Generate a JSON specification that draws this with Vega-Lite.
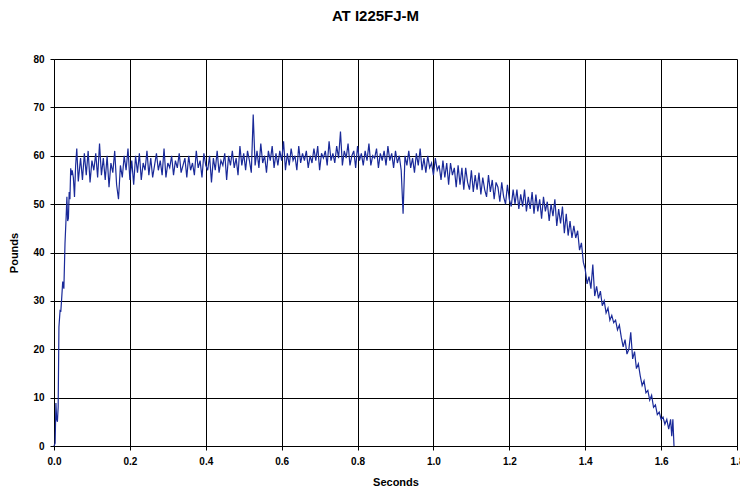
{
"$schema":"https://vega.github.io/schema/vega-lite/v6.json",
"width":683,"height":387,
"autosize":{"type":"none"},
"padding":{"left":54,"top":59,"right":3,"bottom":47},
"background":"white",
"title":{"text":"AT I225FJ-M","font":"Liberation Sans","fontSize":15,"fontWeight":"bold","color":"black","anchor":"middle","frame":"group","offset":30,"dx":-20},
"config":{"view":{"stroke":null},"axis":{"labelFont":"Liberation Sans","labelFontSize":10,"labelFontWeight":"bold","labelColor":"black","titleFont":"Liberation Sans","titleFontSize":11,"titleFontWeight":"bold","titleColor":"black","gridColor":"black","gridOpacity":1,"gridWidth":1,"domainColor":"black","tickColor":"black","tickSize":4}},
"data":{"values":[
{"t":0,"lb":0},{"t":0.003,"lb":0.6},{"t":0.005,"lb":8.9},{"t":0.007,"lb":5.5},{"t":0.009,"lb":5},{"t":0.011,"lb":8.1},{"t":0.013,"lb":24.6},{"t":0.016,"lb":28},{"t":0.018,"lb":27.9},{"t":0.02,"lb":30.2},{"t":0.023,"lb":34},{"t":0.026,"lb":32.5},{"t":0.029,"lb":41.9},{"t":0.032,"lb":47.4},{"t":0.034,"lb":51.5},{"t":0.036,"lb":46.5},{"t":0.038,"lb":47.1},{"t":0.04,"lb":52.5},{"t":0.042,"lb":51},{"t":0.044,"lb":57.4},{"t":0.046,"lb":56},{"t":0.048,"lb":57},{"t":0.051,"lb":55.5},{"t":0.054,"lb":51.5},{"t":0.057,"lb":58},{"t":0.06,"lb":61.5},{"t":0.064,"lb":54.7},
{"t":0.07,"lb":59.5},{"t":0.075,"lb":55},{"t":0.08,"lb":60.5},{"t":0.085,"lb":56},{"t":0.09,"lb":61},{"t":0.095,"lb":54.5},{"t":0.1,"lb":59},{"t":0.105,"lb":57},{"t":0.11,"lb":60.5},{"t":0.115,"lb":55.5},
{"t":0.12,"lb":62.5},{"t":0.125,"lb":56},{"t":0.13,"lb":59.5},{"t":0.135,"lb":55},{"t":0.14,"lb":60},{"t":0.145,"lb":53.5},{"t":0.15,"lb":58.5},{"t":0.155,"lb":56.5},{"t":0.16,"lb":61},{"t":0.165,"lb":54},
{"t":0.17,"lb":51},{"t":0.175,"lb":58},{"t":0.18,"lb":55.5},{"t":0.185,"lb":60},{"t":0.19,"lb":57},{"t":0.195,"lb":61.5},{"t":0.2,"lb":55},{"t":0.205,"lb":59},{"t":0.21,"lb":54},{"t":0.215,"lb":60},
{"t":0.22,"lb":56.5},{"t":0.225,"lb":60.5},{"t":0.23,"lb":55},{"t":0.235,"lb":58.5},{"t":0.24,"lb":57},{"t":0.245,"lb":61},{"t":0.25,"lb":56},{"t":0.255,"lb":59.5},{"t":0.26,"lb":55.5},{"t":0.265,"lb":58},
{"t":0.27,"lb":60.5},{"t":0.275,"lb":57},{"t":0.28,"lb":59},{"t":0.285,"lb":56},{"t":0.29,"lb":61.5},{"t":0.295,"lb":55.5},{"t":0.3,"lb":58.5},{"t":0.305,"lb":57.5},{"t":0.31,"lb":60},{"t":0.315,"lb":56},
{"t":0.32,"lb":59},{"t":0.325,"lb":57.5},{"t":0.33,"lb":60.5},{"t":0.335,"lb":56.5},{"t":0.34,"lb":58},{"t":0.345,"lb":59.5},{"t":0.35,"lb":55.5},{"t":0.355,"lb":60},{"t":0.36,"lb":57},{"t":0.365,"lb":58.5},
{"t":0.37,"lb":56},{"t":0.375,"lb":61},{"t":0.38,"lb":57.5},{"t":0.385,"lb":59},{"t":0.39,"lb":55.5},{"t":0.395,"lb":60.5},{"t":0.4,"lb":58},{"t":0.405,"lb":57},{"t":0.41,"lb":60},{"t":0.415,"lb":54.5},
{"t":0.42,"lb":59.5},{"t":0.425,"lb":57},{"t":0.43,"lb":61},{"t":0.435,"lb":56.5},{"t":0.44,"lb":59},{"t":0.445,"lb":58},{"t":0.45,"lb":60.5},{"t":0.455,"lb":55},{"t":0.46,"lb":60},{"t":0.465,"lb":58},
{"t":0.47,"lb":61},{"t":0.475,"lb":57.5},{"t":0.48,"lb":59.5},{"t":0.485,"lb":56},{"t":0.49,"lb":62},{"t":0.495,"lb":58},{"t":0.5,"lb":60.5},{"t":0.505,"lb":57},{"t":0.51,"lb":61},{"t":0.515,"lb":59},
{"t":0.52,"lb":56.5},{"t":0.525,"lb":68.5},{"t":0.53,"lb":58},{"t":0.535,"lb":61},{"t":0.54,"lb":57.5},{"t":0.545,"lb":62.5},{"t":0.55,"lb":58.5},{"t":0.555,"lb":60},{"t":0.56,"lb":56.5},{"t":0.565,"lb":61},
{"t":0.57,"lb":59},{"t":0.575,"lb":62},{"t":0.58,"lb":57.5},{"t":0.585,"lb":60.5},{"t":0.59,"lb":58},{"t":0.595,"lb":61},{"t":0.6,"lb":59},{"t":0.605,"lb":63},{"t":0.61,"lb":57},{"t":0.615,"lb":60.5},
{"t":0.62,"lb":58},{"t":0.625,"lb":61.5},{"t":0.63,"lb":59},{"t":0.635,"lb":60},{"t":0.64,"lb":57},{"t":0.645,"lb":62},{"t":0.65,"lb":58.5},{"t":0.655,"lb":60.5},{"t":0.66,"lb":59},{"t":0.665,"lb":61},
{"t":0.67,"lb":57.5},{"t":0.675,"lb":60},{"t":0.68,"lb":58.5},{"t":0.685,"lb":61.5},{"t":0.69,"lb":59},{"t":0.695,"lb":62},{"t":0.7,"lb":57},{"t":0.705,"lb":60.5},{"t":0.71,"lb":59.5},{"t":0.715,"lb":61},
{"t":0.72,"lb":58},{"t":0.725,"lb":63},{"t":0.73,"lb":59},{"t":0.735,"lb":60.5},{"t":0.74,"lb":58.5},{"t":0.745,"lb":62},{"t":0.75,"lb":59.5},{"t":0.755,"lb":65},{"t":0.76,"lb":58},{"t":0.765,"lb":61},
{"t":0.77,"lb":59.5},{"t":0.775,"lb":62.5},{"t":0.78,"lb":58},{"t":0.785,"lb":60},{"t":0.79,"lb":61},{"t":0.795,"lb":57.5},{"t":0.8,"lb":62},{"t":0.805,"lb":59},{"t":0.81,"lb":60.5},{"t":0.815,"lb":58},
{"t":0.82,"lb":61},{"t":0.825,"lb":59},{"t":0.83,"lb":62.5},{"t":0.835,"lb":58},{"t":0.84,"lb":60},{"t":0.845,"lb":59.5},{"t":0.85,"lb":61.5},{"t":0.855,"lb":57.5},{"t":0.86,"lb":60.5},{"t":0.865,"lb":59},
{"t":0.87,"lb":61},{"t":0.875,"lb":58},{"t":0.88,"lb":62},{"t":0.885,"lb":59},{"t":0.89,"lb":60.5},{"t":0.895,"lb":57.5},{"t":0.9,"lb":61},{"t":0.905,"lb":58.5},{"t":0.91,"lb":60},{"t":0.915,"lb":57},
{"t":0.92,"lb":48},{"t":0.925,"lb":60},{"t":0.93,"lb":58},{"t":0.935,"lb":61},{"t":0.94,"lb":57.5},{"t":0.945,"lb":59.5},{"t":0.95,"lb":56.5},{"t":0.955,"lb":60.5},{"t":0.96,"lb":58},{"t":0.965,"lb":61.5},
{"t":0.97,"lb":57},{"t":0.975,"lb":59.5},{"t":0.98,"lb":56.5},{"t":0.985,"lb":60},{"t":0.99,"lb":57.5},{"t":0.995,"lb":58.5},{"t":1.0,"lb":56},{"t":1.005,"lb":59.5},{"t":1.01,"lb":57},{"t":1.015,"lb":58},
{"t":1.02,"lb":55},{"t":1.025,"lb":59},{"t":1.03,"lb":55.5},{"t":1.035,"lb":58.5},{"t":1.04,"lb":54},{"t":1.045,"lb":58.5},{"t":1.05,"lb":56},{"t":1.055,"lb":57.5},{"t":1.06,"lb":53.5},{"t":1.065,"lb":58},
{"t":1.07,"lb":54},{"t":1.075,"lb":57.5},{"t":1.08,"lb":53},{"t":1.085,"lb":57.5},{"t":1.09,"lb":54.5},{"t":1.095,"lb":53},{"t":1.1,"lb":57},{"t":1.105,"lb":52.5},{"t":1.11,"lb":56},{"t":1.115,"lb":53},
{"t":1.12,"lb":56.5},{"t":1.125,"lb":52},{"t":1.13,"lb":55.5},{"t":1.135,"lb":53},{"t":1.14,"lb":51.5},{"t":1.145,"lb":56},{"t":1.15,"lb":52.5},{"t":1.155,"lb":55},{"t":1.16,"lb":51},{"t":1.165,"lb":54.5},
{"t":1.17,"lb":53.5},{"t":1.175,"lb":50.5},{"t":1.18,"lb":54.5},{"t":1.185,"lb":51.5},{"t":1.19,"lb":50},{"t":1.195,"lb":54},{"t":1.2,"lb":51},{"t":1.205,"lb":49.5},{"t":1.21,"lb":53},{"t":1.215,"lb":50},
{"t":1.22,"lb":53},{"t":1.225,"lb":49},{"t":1.23,"lb":52},{"t":1.235,"lb":49.5},{"t":1.24,"lb":53},{"t":1.245,"lb":48.5},{"t":1.25,"lb":51.5},{"t":1.255,"lb":49},{"t":1.26,"lb":52.5},{"t":1.265,"lb":48},
{"t":1.27,"lb":52},{"t":1.275,"lb":48.5},{"t":1.28,"lb":51},{"t":1.285,"lb":47},{"t":1.29,"lb":51.5},{"t":1.295,"lb":48.5},{"t":1.3,"lb":50.5},{"t":1.305,"lb":46.5},{"t":1.31,"lb":50},{"t":1.315,"lb":47.5},
{"t":1.32,"lb":51},{"t":1.325,"lb":45.5},{"t":1.33,"lb":49},{"t":1.335,"lb":46},{"t":1.34,"lb":49.5},{"t":1.345,"lb":44},{"t":1.35,"lb":48},{"t":1.355,"lb":43.5},{"t":1.36,"lb":46.5},{"t":1.365,"lb":43},
{"t":1.37,"lb":45.5},{"t":1.375,"lb":43},{"t":1.38,"lb":44.5},{"t":1.385,"lb":40.5},{"t":1.39,"lb":42},{"t":1.395,"lb":38},{"t":1.4,"lb":36.5},{"t":1.405,"lb":33.5},{"t":1.41,"lb":35},{"t":1.415,"lb":32.5},
{"t":1.42,"lb":37.5},{"t":1.425,"lb":31},{"t":1.43,"lb":33},{"t":1.435,"lb":30.5},{"t":1.44,"lb":32},{"t":1.445,"lb":29},{"t":1.45,"lb":30},{"t":1.455,"lb":27.5},{"t":1.46,"lb":28.5},{"t":1.465,"lb":26},
{"t":1.47,"lb":27},{"t":1.475,"lb":25.5},{"t":1.48,"lb":26},{"t":1.485,"lb":24},{"t":1.49,"lb":25},{"t":1.495,"lb":22.5},{"t":1.5,"lb":20.5},{"t":1.505,"lb":22},{"t":1.51,"lb":19},{"t":1.515,"lb":20},
{"t":1.52,"lb":23.5},{"t":1.525,"lb":18},{"t":1.53,"lb":19.5},{"t":1.535,"lb":16},{"t":1.54,"lb":17},{"t":1.545,"lb":14.5},{"t":1.55,"lb":12.5},{"t":1.555,"lb":13.5},{"t":1.56,"lb":11},{"t":1.565,"lb":11.5},
{"t":1.57,"lb":9.5},{"t":1.575,"lb":10.5},{"t":1.58,"lb":8},{"t":1.585,"lb":8.5},{"t":1.59,"lb":6.5},{"t":1.595,"lb":7},{"t":1.6,"lb":5.5},{"t":1.605,"lb":6},{"t":1.61,"lb":4.5},{"t":1.615,"lb":5.5},
{"t":1.62,"lb":3.5},{"t":1.625,"lb":5.5},{"t":1.628,"lb":2},{"t":1.631,"lb":5.5},{"t":1.634,"lb":0}
]},
"mark":{"type":"line","color":"#1a2a99","strokeWidth":1.2},
"encoding":{
"x":{"field":"t","type":"quantitative","title":"Seconds","scale":{"domain":[0,1.8],"nice":false,"zero":true},"axis":{"values":[0,0.2,0.4,0.6,0.8,1,1.2,1.4,1.6,1.8],"labelPadding":6,"titlePadding":10,"labelFlush":false,"labelOverlap":false}},
"y":{"field":"lb","type":"quantitative","title":"Pounds","scale":{"domain":[0,80],"nice":false},"axis":{"values":[0,10,20,30,40,50,60,70,80],"labelPadding":6,"titlePadding":13,"labelFlush":false}}
}
}
